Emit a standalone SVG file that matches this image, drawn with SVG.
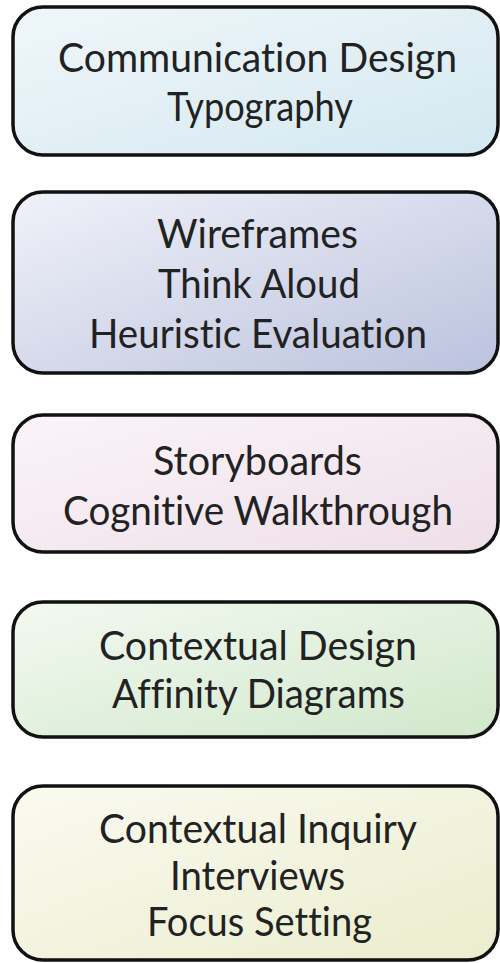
<svg xmlns="http://www.w3.org/2000/svg" width="500" height="963" viewBox="0 0 500 963">
<defs>
<linearGradient id="g1" x1="0" y1="0" x2="1" y2="1"><stop offset="0" stop-color="#f0f7fa"/><stop offset="1" stop-color="#d3e8f0"/></linearGradient>
<linearGradient id="g2" x1="0" y1="0" x2="1" y2="1"><stop offset="0" stop-color="#f0f2f9"/><stop offset="1" stop-color="#bbc2dd"/></linearGradient>
<linearGradient id="g3" x1="0" y1="0" x2="1" y2="1"><stop offset="0" stop-color="#fbf4f8"/><stop offset="1" stop-color="#eedfe9"/></linearGradient>
<linearGradient id="g4" x1="0" y1="0" x2="1" y2="1"><stop offset="0" stop-color="#f3f9f1"/><stop offset="1" stop-color="#d0e8cb"/></linearGradient>
<linearGradient id="g5" x1="0" y1="0" x2="1" y2="1"><stop offset="0" stop-color="#fafaf0"/><stop offset="1" stop-color="#eaedcd"/></linearGradient>
</defs>
<style>
.box{stroke:#111;stroke-width:3.5}
.t{font-family:Lato,"Liberation Sans",sans-serif;font-size:40px;fill:#222;text-anchor:middle;font-variant-ligatures:none;font-feature-settings:"liga" 0,"clig" 0}
</style>
<rect width="500" height="963" fill="#ffffff"/>
<g id="node1">
<rect class="box" x="13" y="7" width="485" height="148" rx="30" fill="url(#g1)"/>
<text class="t" x="257.5" y="72" textLength="399" lengthAdjust="spacingAndGlyphs">Communication Design</text>
<text class="t" x="260" y="121" textLength="186" lengthAdjust="spacingAndGlyphs">Typography</text>
</g>
<g id="node2">
<rect class="box" x="13" y="192" width="485" height="181" rx="30" fill="url(#g2)"/>
<text class="t" x="257.5" y="248" textLength="201" lengthAdjust="spacingAndGlyphs">Wireframes</text>
<text class="t" x="259" y="298" textLength="202" lengthAdjust="spacingAndGlyphs">Think Aloud</text>
<text class="t" x="258" y="348" textLength="338" lengthAdjust="spacingAndGlyphs">Heuristic Evaluation</text>
</g>
<g id="node3">
<rect class="box" x="13" y="415" width="485" height="137" rx="30" fill="url(#g3)"/>
<text class="t" x="257.5" y="475" textLength="209" lengthAdjust="spacingAndGlyphs">Storyboards</text>
<text class="t" x="258" y="525" textLength="390" lengthAdjust="spacingAndGlyphs">Cognitive Walkthrough</text>
</g>
<g id="node4">
<rect class="box" x="13" y="602" width="485" height="135" rx="30" fill="url(#g4)"/>
<text class="t" x="258" y="660" textLength="318" lengthAdjust="spacingAndGlyphs">Contextual Design</text>
<text class="t" x="258.5" y="708" textLength="293" lengthAdjust="spacingAndGlyphs">Affinity Diagrams</text>
</g>
<g id="node5">
<rect class="box" x="13" y="786" width="485" height="174" rx="30" fill="url(#g5)"/>
<text class="t" x="258" y="843" textLength="318" lengthAdjust="spacingAndGlyphs">Contextual Inquiry</text>
<text class="t" x="257.5" y="890" textLength="175" lengthAdjust="spacingAndGlyphs">Interviews</text>
<text class="t" x="259.5" y="936" textLength="225" lengthAdjust="spacingAndGlyphs">Focus Setting</text>
</g>
<g id="connectors"/>
</svg>
